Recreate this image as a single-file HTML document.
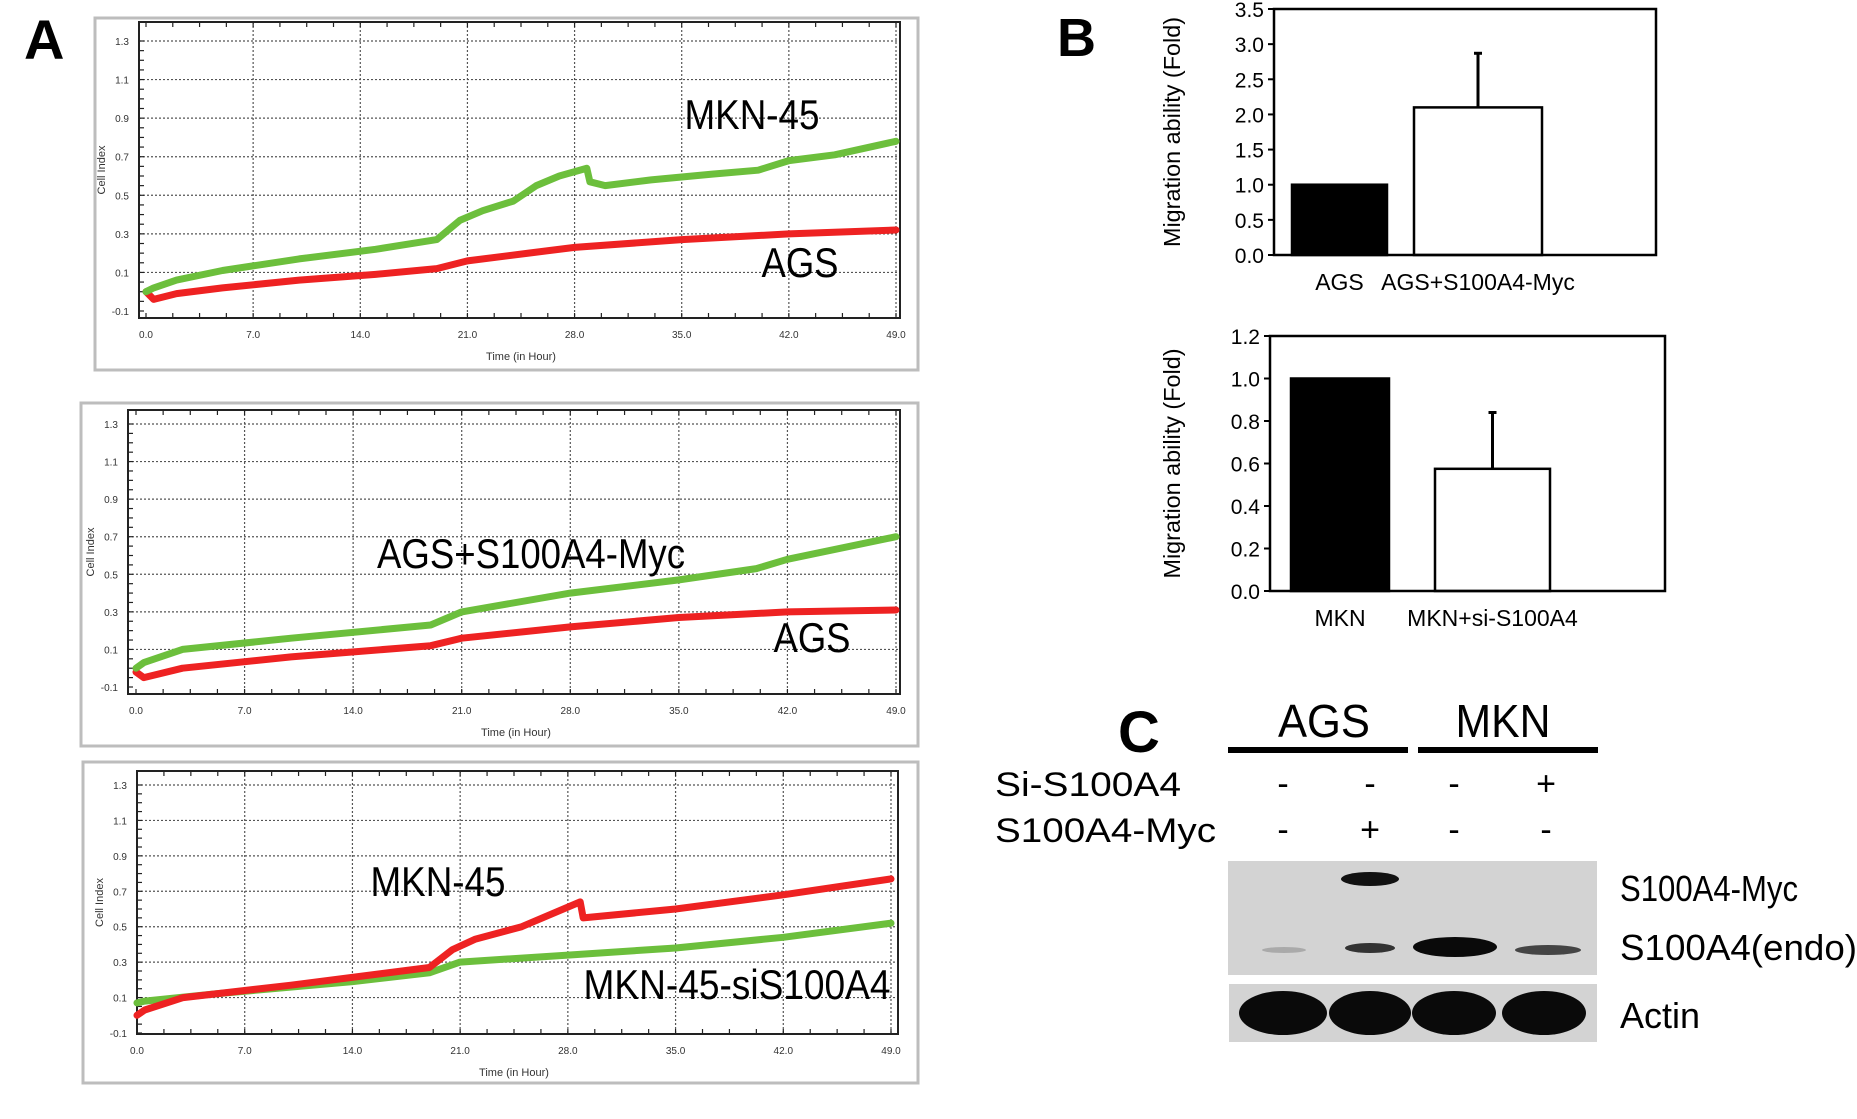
<!DOCTYPE html>
<html><head><meta charset="utf-8"><style>
html,body{margin:0;padding:0;background:#fff;}
svg{display:block;font-family:"Liberation Sans",sans-serif;}
</style></head><body>
<svg id="fig" width="1857" height="1119" viewBox="0 0 1857 1119" xmlns="http://www.w3.org/2000/svg">
<rect width="1857" height="1119" fill="#fff"/>
<text x="24" y="59" font-size="56" font-weight="bold">A</text>
<text x="1057" y="56" font-size="54" font-weight="bold">B</text>
<text x="1118" y="752" font-size="58" font-weight="bold">C</text>
<g id="lines"></g>
<g id="bars"></g>
<g id="blot">
  <text x="1324" y="737" font-size="46" text-anchor="middle" textLength="92" lengthAdjust="spacingAndGlyphs">AGS</text>
  <text x="1503" y="737" font-size="46" text-anchor="middle" textLength="95" lengthAdjust="spacingAndGlyphs">MKN</text>
  <rect x="1228" y="747" width="180" height="6" fill="#000"/>
  <rect x="1418" y="747" width="180" height="6" fill="#000"/>
  <text x="995" y="796" font-size="34" textLength="186" lengthAdjust="spacingAndGlyphs">Si-S100A4</text>
  <text x="995" y="842" font-size="34" textLength="221" lengthAdjust="spacingAndGlyphs">S100A4-Myc</text>
  <g font-size="34" text-anchor="middle">
    <text x="1283" y="795">-</text><text x="1370" y="795">-</text><text x="1454" y="795">-</text><text x="1546" y="795">+</text>
    <text x="1283" y="841">-</text><text x="1370" y="841">+</text><text x="1454" y="841">-</text><text x="1546" y="841">-</text>
  </g>
  <rect x="1228" y="861" width="369" height="114" fill="#d3d3d3"/>
  <ellipse cx="1370" cy="879" rx="29" ry="7" fill="#111"/>
  <ellipse cx="1284" cy="950" rx="22" ry="3" fill="#aaa"/>
  <ellipse cx="1370" cy="948" rx="25" ry="5" fill="#333"/>
  <ellipse cx="1455" cy="947" rx="42" ry="10" fill="#0a0a0a"/>
  <ellipse cx="1548" cy="950" rx="33" ry="5" fill="#444"/>
  <rect x="1229" y="984" width="368" height="58" fill="#d3d3d3"/>
  <ellipse cx="1283" cy="1013" rx="44" ry="22" fill="#0a0a0a"/>
  <ellipse cx="1370" cy="1013" rx="41" ry="22" fill="#0a0a0a"/>
  <ellipse cx="1454" cy="1013" rx="42" ry="22" fill="#0a0a0a"/>
  <ellipse cx="1544" cy="1013" rx="42" ry="22" fill="#0a0a0a"/>
  <text x="1620" y="901" font-size="36" textLength="178" lengthAdjust="spacingAndGlyphs">S100A4-Myc</text>
  <text x="1620" y="960" font-size="36" textLength="237" lengthAdjust="spacingAndGlyphs">S100A4(endo)</text>
  <text x="1620" y="1028" font-size="36" textLength="80" lengthAdjust="spacingAndGlyphs">Actin</text>
</g>
</svg>
<script>
// Cell index line chart data
const timeTicks = ["0.0","7.0","14.0","21.0","28.0","35.0","42.0","49.0"];
const yTicks = ["1.3","1.1","0.9","0.7","0.5","0.3","0.1","-0.1"];
const p1GreenT = [0,0.5,2,5,10,15,19,20.5,22,24,25.5,27,28.8,29,30,33,37,40,42,45,49];
const p1GreenV = [0,0.02,0.06,0.11,0.17,0.22,0.27,0.37,0.42,0.47,0.55,0.6,0.64,0.57,0.55,0.58,0.61,0.63,0.68,0.71,0.78];
const p1RedT = [0,0.5,2,5,10,15,19,21,25,28,35,42,49];
const p1RedV = [0,-0.04,-0.01,0.02,0.06,0.09,0.12,0.16,0.2,0.23,0.27,0.3,0.32];
const p2GreenT = [0,0.5,3,10,19,21,28,35,40,42,49];
const p2GreenV = [0,0.03,0.1,0.16,0.23,0.3,0.4,0.47,0.53,0.58,0.7];
const p2RedT = [0,0.5,3,10,19,21,28,35,42,49];
const p2RedV = [-0.02,-0.05,0,0.06,0.12,0.16,0.22,0.27,0.3,0.31];
const p3RedT = [0,0.5,3,10,19,20.5,22,25,28.8,29,35,42,49];
const p3RedV = [0,0.03,0.1,0.17,0.27,0.37,0.43,0.5,0.64,0.55,0.6,0.68,0.77];
const p3GreenT = [0,0.5,5,14,19,21,28,35,42,49];
const p3GreenV = [0.07,0.08,0.12,0.19,0.24,0.3,0.34,0.38,0.44,0.52];

// Bar chart data
const b1Cats = ["AGS","AGS+S100A4-Myc"];
const b1Vals = [1.0,2.1];
const b1Err = [0,0.77];
const b1Ticks = ["0.0","0.5","1.0","1.5","2.0","2.5","3.0","3.5"];
const b2Cats = ["MKN","MKN+si-S100A4"];
const b2Vals = [1.0,0.575];
const b2Err = [0,0.265];
const b2Ticks = ["0.0","0.2","0.4","0.6","0.8","1.0","1.2"];

const NS="http://www.w3.org/2000/svg";
function mk(tag,attrs,parent){const e=document.createElementNS(NS,tag);for(const k in attrs)e.setAttribute(k,attrs[k]);parent.appendChild(e);return e;}

const panels=[
 {frame:[95,18,918,370],x0:146,x1:896,yTop:41,yBot:311,plot:[139,22,900,318],ann:[["MKN-45",752,127,135],["AGS",800,275,77]],series:[[p1RedT,p1RedV,"#ee2222"],[p1GreenT,p1GreenV,"#6cbf3c"]],name:"chart-1"},
 {frame:[81,403,918,746],x0:136,x1:896,yTop:424,yBot:687,plot:[128,410,900,694],ann:[["AGS+S100A4-Myc",531,566,308],["AGS",812,650,77]],series:[[p2RedT,p2RedV,"#ee2222"],[p2GreenT,p2GreenV,"#6cbf3c"]],name:"chart-2"},
 {frame:[83,762,918,1083],x0:137,x1:891,yTop:785,yBot:1033,plot:[137,771,898,1034],ann:[["MKN-45",438,894,135],["MKN-45-siS100A4",737,997,307]],series:[[p3GreenT,p3GreenV,"#6cbf3c"],[p3RedT,p3RedV,"#ee2222"]],name:"chart-3"}
];
const L=document.getElementById('lines');
panels.forEach((p,pi)=>{
  const g=mk('g',{},L);
  
  
  const [fx0,fy0,fx1,fy1]=p.frame;
  mk('rect',{x:fx0,y:fy0,width:fx1-fx0,height:fy1-fy0,fill:'#fff',stroke:'#bdbdbd','stroke-width':3},g);
  const xs=t=>p.x0+(p.x1-p.x0)*t/49;
  const ys=v=>p.yTop+(p.yBot-p.yTop)*(1.3-v)/1.4;
  const [px0,py0,px1,py1]=p.plot;
  for(let i=1;i<=7;i++){const x=xs(i*7);mk('line',{x1:x,y1:py0,x2:x,y2:py1,stroke:'#555','stroke-width':1.2,'stroke-dasharray':'2 2'},g);}
  for(let i=0;i<7;i++){const y=ys(1.3-0.2*i);mk('line',{x1:px0,y1:y,x2:px1,y2:y,stroke:'#555','stroke-width':1.2,'stroke-dasharray':'2 2'},g);}
  mk('rect',{x:px0,y:py0,width:px1-px0,height:py1-py0,fill:'none',stroke:'#222','stroke-width':2},g);
  for(let t=0;t<=49;t+=1.75){const x=xs(t);mk('line',{x1:x,y1:py1,x2:x,y2:py1-5,stroke:'#222','stroke-width':1.2},g);mk('line',{x1:x,y1:py0,x2:x,y2:py0+5,stroke:'#222','stroke-width':1.2},g);}
  for(let v=-0.1;v<=1.31;v+=0.05){const y=ys(v);mk('line',{x1:px0,y1:y,x2:px0+5,y2:y,stroke:'#222','stroke-width':1.2},g);}
  timeTicks.forEach((s,i)=>{const t=mk('text',{x:xs(i*7),y:py1+20,'font-size':10,'text-anchor':'middle',fill:'#333'},g);t.textContent=s;
    
    });
  yTicks.forEach((s,i)=>{const t=mk('text',{x:px0-10,y:ys(parseFloat(s))+4,'font-size':10,'text-anchor':'end',fill:'#333'},g);t.textContent=s;
    
    });
  const xt=mk('text',{x:(p.x0+p.x1)/2,y:py1+42,'font-size':11,'text-anchor':'middle',fill:'#333'},g);xt.textContent='Time (in Hour)';
  
  
  const cy=(py0+py1)/2, cx=px0-34;
  const yt=mk('text',{x:cx,y:cy,'font-size':11,'text-anchor':'middle',fill:'#333',transform:`rotate(-90 ${cx} ${cy})`},g);yt.textContent='Cell Index';
  
  
  p.series.forEach(([T,V,c])=>{
    const d=T.map((t,i)=>(i?'L':'M')+xs(t).toFixed(1)+' '+ys(V[i]).toFixed(1)).join(' ');
    const path=mk('path',{d:d,fill:'none',stroke:c,'stroke-width':7,'stroke-linejoin':'round','stroke-linecap':'round'},g);
    
    
  });
  p.ann.forEach(([s,x,y,w])=>{const t=mk('text',{x:x,y:y+2,'font-size':42,'text-anchor':'middle',textLength:w,lengthAdjust:'spacingAndGlyphs'},g);t.textContent=s;
    
    });
});

const B=document.getElementById('bars');
const bcharts=[
 {box:[1274,9,1656,255],max:3.5,cats:b1Cats,vals:b1Vals,err:b1Err,ticks:b1Ticks,bx:[[1292,1387],[1414,1542]],name:"bar-chart-ags"},
 {box:[1270,336,1665,591],max:1.2,cats:b2Cats,vals:b2Vals,err:b2Err,ticks:b2Ticks,bx:[[1291,1389],[1435,1550]],name:"bar-chart-mkn"}
];
bcharts.forEach(c=>{
  const g=mk('g',{},B);
  
  
  const [x0,y0,x1,y1]=c.box;
  const ys=v=>y1-(y1-y0)*v/c.max;
  c.ticks.forEach(s=>{const v=parseFloat(s);const y=ys(v);
    mk('line',{x1:x0-6,y1:y,x2:x0,y2:y,stroke:'#000','stroke-width':2},g);
    const t=mk('text',{x:x0-10,y:y+8,'font-size':21,'text-anchor':'end'},g);t.textContent=s;
    
    });
  c.vals.forEach((v,i)=>{const [a,b]=c.bx[i];const top=ys(v);
    if(c.err[i]>0){const xm=(a+b)/2;const ye=ys(v+c.err[i]);
      const l=mk('line',{x1:xm,y1:top,x2:xm,y2:ye,stroke:'#000','stroke-width':3},g);
      
      
      mk('line',{x1:xm-4,y1:ye,x2:xm+4,y2:ye,stroke:'#000','stroke-width':3},g);}
    const r=mk('rect',{x:a,y:top,width:b-a,height:y1-top,fill:i===0?'#000':'#fff',stroke:'#000','stroke-width':2.5},g);
    
    
    const t=mk('text',{x:(a+b)/2,y:y1+35,'font-size':23,'text-anchor':'middle'},g);t.textContent=c.cats[i];
    
    
  });
  mk('rect',{x:x0,y:y0,width:x1-x0,height:y1-y0,fill:'none',stroke:'#000','stroke-width':2.5},g);
  const cx=1180, cy=(y0+y1)/2;
  const t=mk('text',{x:cx,y:cy,'font-size':23,'text-anchor':'middle',textLength:230,lengthAdjust:'spacingAndGlyphs',transform:`rotate(-90 ${cx} ${cy})`},g);t.textContent='Migration ability (Fold)';
  
  
});
</script>
</body></html>
